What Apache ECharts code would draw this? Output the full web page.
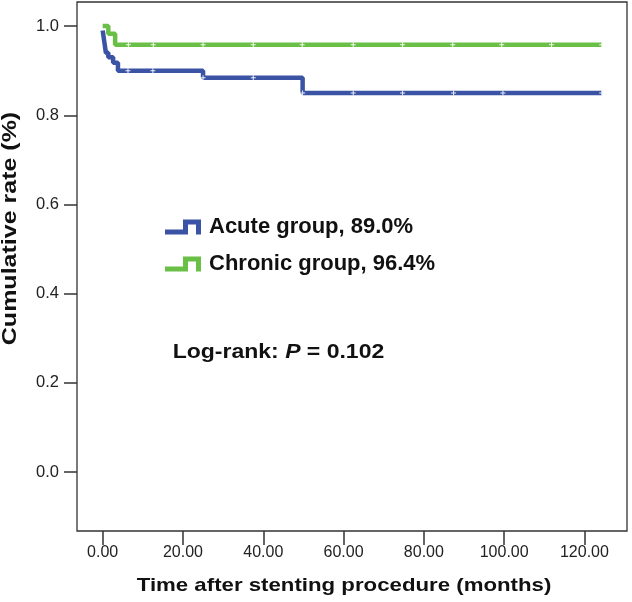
<!DOCTYPE html>
<html>
<head>
<meta charset="utf-8">
<script src="https://cdn.jsdelivr.net/npm/echarts@6/dist/echarts.min.js"></script>
<style>
  html, body { margin: 0; padding: 0; background: #ffffff; }
  #chart { width: 632px; height: 602px; }
</style>
</head>
<body>
<div id="chart"></div>
<script>
// ---- data ----
const timeAcute = [0, 0.4, 0.8, 1.4, 2.6, 3.8, 25.0, 49.8, 124.4];
const rateAcute = [0.99, 0.965, 0.94, 0.93, 0.918, 0.9, 0.884, 0.85, 0.85];
const timeChronic = [0, 1.4, 3.1, 124.4];
const rateChronic = [1.0, 0.983, 0.958, 0.958];
const censorAcute = [6.3, 12.5, 25.0, 37.5, 49.8, 62.4, 74.7, 87.4, 99.7, 124.3];
const censorChronic = [6.4, 12.6, 25.0, 37.5, 49.7, 62.4, 74.7, 87.2, 99.4, 111.8, 124.3];
const xTicks = [0, 20, 40, 60, 80, 100, 120];
const yTicks = [0, 0.2, 0.4, 0.6, 0.8, 1.0];
const nameAcute = 'Acute group, 89.0%';
const nameChronic = 'Chronic group, 96.4%';
const xTitle = 'Time after stenting procedure (months)';
const yTitle = 'Cumulative rate (%)';
const pValue = '0.102';

// ---- helpers ----
function pairs(ts, vs) { return ts.map((t, i) => [t, vs[i]]); }
function stepAt(ts, vs, t) {
  let v = vs[0];
  for (let i = 0; i < ts.length; i++) { if (ts[i] <= t) v = vs[i]; }
  return v;
}
const FONT = '"Liberation Sans", Arial, Helvetica, sans-serif';
const BLUE = '#3a53a4';
const GREEN = '#6abf46';
const PLUS = 'path://M2,0H3V2H5V3H3V5H2V3H0V2H2Z';
const ICON = 'path://M0,10H18V0H36V15H31V5H23V15H0Z';

const chart = echarts.init(document.getElementById('chart'), null, { renderer: 'canvas' });
chart.setOption({
  animation: false,
  backgroundColor: '#ffffff',
  grid: {
    left: 77, right: 5, top: 2, bottom: 71,
    show: true, borderColor: '#333', borderWidth: 1.3, backgroundColor: 'transparent'
  },
  xAxis: {
    type: 'value', min: -6.4, max: 130.6, position: 'bottom',
    axisLine: { show: false, onZero: false },
    splitLine: { show: false },
    axisTick: { show: true, length: 14, customValues: xTicks, lineStyle: { color: '#333', width: 1.5 } },
    axisLabel: {
      customValues: xTicks, formatter: v => Number(v).toFixed(2),
      fontSize: 16, color: '#222', fontFamily: FONT, margin: 14
    }
  },
  yAxis: {
    type: 'value', min: -0.132, max: 1.054, position: 'left',
    axisLine: { show: false, onZero: false },
    splitLine: { show: false },
    axisTick: { show: true, length: 13, customValues: yTicks, lineStyle: { color: '#333', width: 1.5 } },
    axisLabel: {
      customValues: yTicks, formatter: v => Number(v).toFixed(1),
      fontSize: 16.5, color: '#222', fontFamily: FONT, margin: 18
    }
  },
  legend: {
    orient: 'vertical', left: 160, top: 211,
    itemWidth: 36, itemHeight: 15, itemGap: 15,
    icon: ICON, selectedMode: false,
    data: [nameAcute, nameChronic],
    textStyle: { fontSize: 22, fontWeight: 'bold', color: '#111', fontFamily: FONT, lineHeight: 22, padding: [0, 0, 0, 3] }
  },
  graphic: [
    {
      type: 'text', x: 344, y: 586, scaleX: 1.17,
      style: { text: xTitle, font: 'bold 19px ' + FONT, fill: '#111', align: 'center', verticalAlign: 'middle' }
    },
    {
      type: 'text', x: 10.5, y: 228.5, rotation: Math.PI / 2, scaleX: 1.25,
      style: { text: yTitle, font: 'bold 20px ' + FONT, fill: '#111', align: 'center', verticalAlign: 'middle' }
    },
    {
      type: 'text', x: 172.7, y: 352, scaleX: 1.15,
      style: {
        text: '{a|Log-rank: }{b|P}{a| = ' + pValue + '}',
        align: 'left', verticalAlign: 'middle',
        rich: {
          a: { font: 'bold 20px ' + FONT, fill: '#111' },
          b: { font: 'italic bold 20px ' + FONT, fill: '#111' }
        }
      }
    }
  ],
  series: [
    {
      name: nameAcute, type: 'line', step: 'end', showSymbol: false, symbol: 'none',
      color: BLUE, lineStyle: { color: BLUE, width: 4.5 }, z: 2,
      data: pairs(timeAcute, rateAcute)
    },
    {
      name: nameChronic, type: 'line', step: 'end', showSymbol: false, symbol: 'none',
      color: GREEN, lineStyle: { color: GREEN, width: 4.5 }, z: 3,
      data: pairs(timeChronic, rateChronic)
    },
    {
      name: 'acute-censored', type: 'scatter', symbol: PLUS, symbolSize: 5, z: 5,
      itemStyle: { color: '#ffffff', opacity: 0.9 }, silent: true,
      data: censorAcute.map(t => [t, stepAt(timeAcute, rateAcute, t)])
    },
    {
      name: 'chronic-censored', type: 'scatter', symbol: PLUS, symbolSize: 5, z: 5,
      itemStyle: { color: '#ffffff', opacity: 0.9 }, silent: true,
      data: censorChronic.map(t => [t, stepAt(timeChronic, rateChronic, t)])
    }
  ]
});
</script>
</body>
</html>
